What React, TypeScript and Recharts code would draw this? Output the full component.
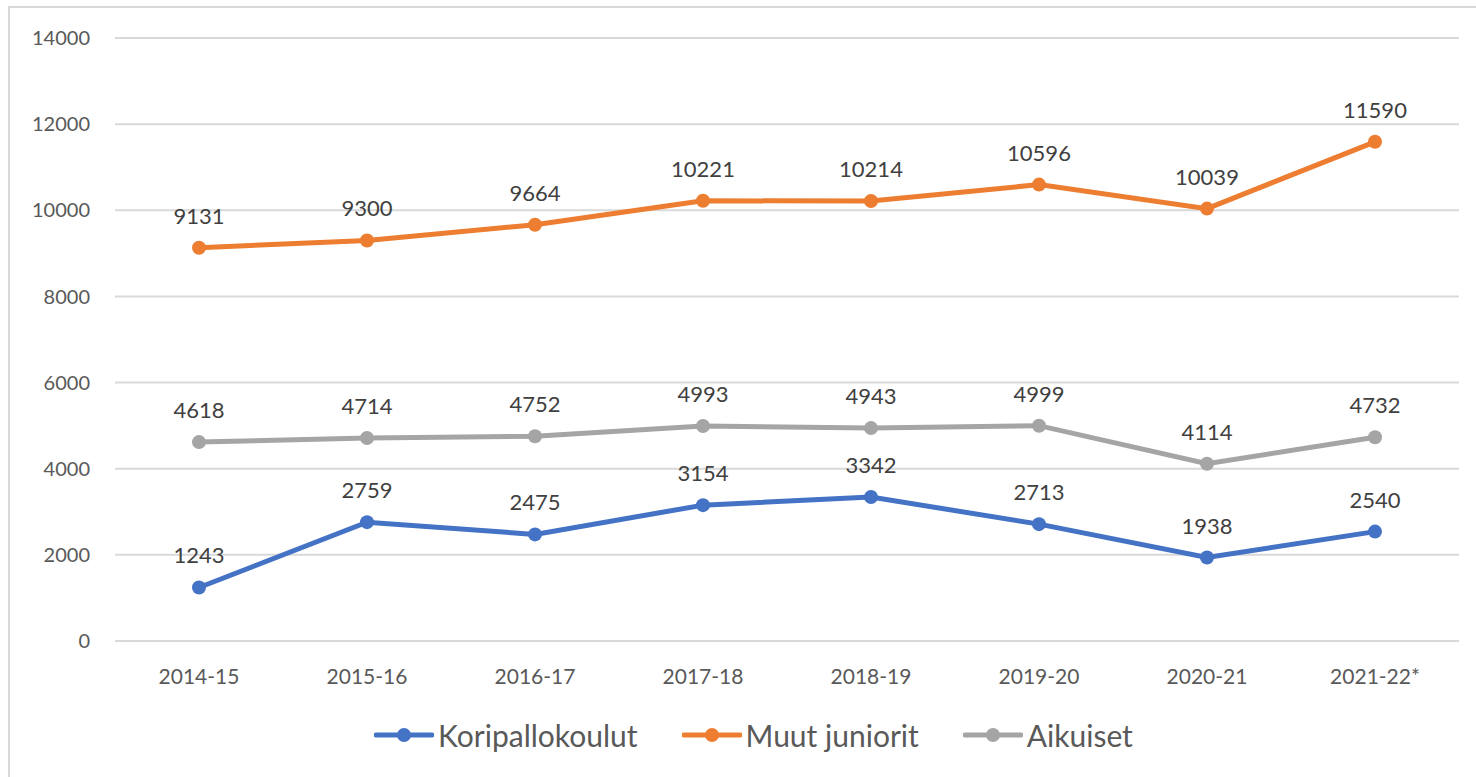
import {
  CartesianGrid,
  LabelList,
  Legend,
  Line,
  LineChart,
  XAxis,
  YAxis,
} from "recharts";

const seasons = [
  "2014-15",
  "2015-16",
  "2016-17",
  "2017-18",
  "2018-19",
  "2019-20",
  "2020-21",
  "2021-22*",
];
const koripallokoulut = [1243, 2759, 2475, 3154, 3342, 2713, 1938, 2540];
const muutJuniorit = [9131, 9300, 9664, 10221, 10214, 10596, 10039, 11590];
const aikuiset = [4618, 4714, 4752, 4993, 4943, 4999, 4114, 4732];
const yTicks = [0, 2000, 4000, 6000, 8000, 10000, 12000, 14000];

const series = [
  { key: "koripallokoulut", name: "Koripallokoulut", color: "#4472C4" },
  { key: "muutJuniorit", name: "Muut juniorit", color: "#ED7D31" },
  { key: "aikuiset", name: "Aikuiset", color: "#A5A5A5" },
];

const data = seasons.map((season, i) => ({
  season,
  koripallokoulut: koripallokoulut[i],
  muutJuniorit: muutJuniorit[i],
  aikuiset: aikuiset[i],
}));

const FONT = "Lato, 'Open Sans', sans-serif";

function LegendContent() {
  return (
    <div
      style={{
        height: 40,
        boxSizing: "border-box",
        paddingBottom: 4,
        display: "flex",
        justifyContent: "center",
        alignItems: "center",
        fontFamily: FONT,
        fontSize: 30,
        lineHeight: "36px",
        color: "#595959",
        paddingLeft: 40,
      }}
    >
      {series.map((s) => (
        <div
          key={s.key}
          style={{ display: "flex", alignItems: "center", margin: "0 22px" }}
        >
          <svg width={60} height={20} style={{ marginRight: 4 }}>
            <line
              x1={2}
              y1={10}
              x2={58}
              y2={10}
              stroke={s.color}
              strokeWidth={5}
              strokeLinecap="round"
            />
            <circle cx={30} cy={10} r={7} fill={s.color} />
          </svg>
          <span>{s.name}</span>
        </div>
      ))}
    </div>
  );
}

export default function App() {
  return (
    <div
      style={{
        position: "absolute",
        left: 8,
        top: 6,
        width: 1468,
        height: 771,
        borderTop: "2px solid #d9d9d9",
        borderLeft: "2px solid #d9d9d9",
        background: "#fff",
      }}
    >
      <div style={{ position: "absolute", left: -2, top: 0 }}>
        <LineChart
          width={1460}
          height={769}
          data={data}
          margin={{ top: 30, right: 9, bottom: 20, left: 0 }}
        >
          <CartesianGrid
            vertical={false}
            stroke="#d9d9d9"
            strokeWidth={2}
          />
          <XAxis
            dataKey="season"
            height={76}
            padding={{ left: 84, right: 84 }}
            axisLine={{ stroke: "#d9d9d9", strokeWidth: 2 }}
            tickLine={false}
            tickSize={6}
            tickMargin={22}
            tick={{ fill: "#595959", fontSize: 21, fontFamily: FONT }}
          />
          <YAxis
            width={107}
            domain={[0, 14000]}
            ticks={yTicks}
            axisLine={false}
            tickLine={false}
            tickSize={6}
            tickMargin={19}
            tick={{ fill: "#595959", fontSize: 20, fontFamily: FONT }}
          />
          <Legend verticalAlign="bottom" content={<LegendContent />} />
          {series.map((s) => (
            <Line
              key={s.key}
              dataKey={s.key}
              name={s.name}
              type="linear"
              stroke={s.color}
              strokeWidth={5}
              strokeLinecap="round"
              dot={{ r: 7, fill: s.color, stroke: s.color, strokeWidth: 0 }}
              activeDot={false}
              isAnimationActive={false}
            >
              <LabelList
                dataKey={s.key}
                position="top"
                offset={24}
                fill="#404040"
                fontSize={22}
                fontFamily={FONT}
              />
            </Line>
          ))}
        </LineChart>
      </div>
    </div>
  );
}
